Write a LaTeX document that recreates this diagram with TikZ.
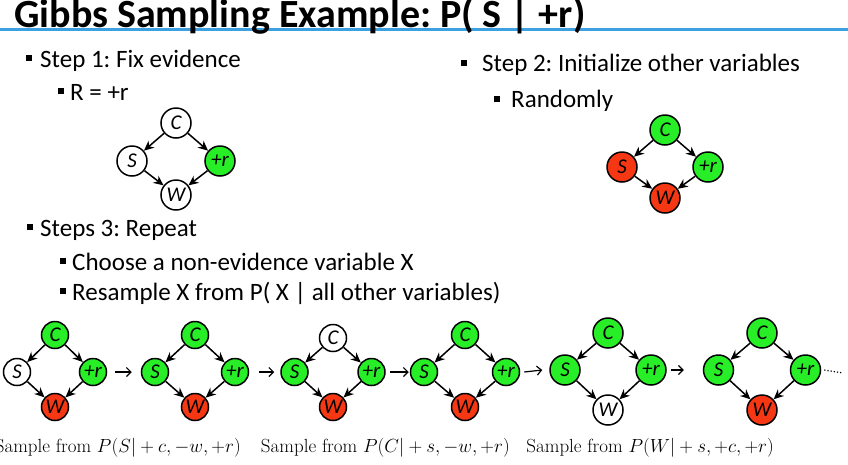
\documentclass[tikz,border=0pt]{standalone}
\usepackage{fix-cm}
\usepackage{fontspec}
\newfontfamily\calfont{Carlito}
\usetikzlibrary{arrows.meta}
\definecolor{vgreen}{RGB}{40,238,40}
\definecolor{vred}{RGB}{245,55,20}
\definecolor{tblue}{RGB}{60,160,225}
\tikzset{
  var/.style={circle,draw=black,line width=1.5pt,minimum size=#1,inner sep=0pt,
    font=\calfont\itshape\fontsize{21}{21}\selectfont},
  var/.default=28pt,
  bnedge/.style={-{Stealth[length=10pt,width=9pt]},line width=1.5pt},
  seqarrow/.style={-{Straight Barb[length=4.5pt,width=9pt]},line width=1.2pt},
  bul/.style={rectangle,fill=black,minimum size=5.5pt,inner sep=0pt},
  lvl/.style={anchor=base west,inner sep=0pt,font=\calfont\fontsize{25}{29}\selectfont},
  captext/.style={anchor=base east,inner sep=0pt,font=\fontsize{19}{23}\selectfont},
}
\newcommand{\captxt}[1]{Sample from $#1$}
% #1 prefix, #2 Cx, #3 Cy, #4 dx, #5 dyS, #6 dyW, #7 fill C, #8 fill S, #9 fill W
\newcommand{\gbnet}[9]{%
  \node[var=\gbsize,fill=#7] (#1c) at (#2,#3) {C};
  \node[var=\gbsize,fill=#8] (#1s) at (#2-#4,#3+#5) {S};
  \node[var=\gbsize,fill=vgreen] (#1r) at (#2+#4,#3+#5) {+r};
  \node[var=\gbsize,fill=#9] (#1w) at (#2,#3+#6) {W};
  \draw[bnedge] (#1c) -- (#1s);
  \draw[bnedge] (#1c) -- (#1r);
  \draw[bnedge] (#1s) -- (#1w);
  \draw[bnedge] (#1r) -- (#1w);
}
\newcommand{\gbsize}{30pt}
\begin{document}
\frenchspacing
\begin{tikzpicture}[x=1pt,y=-1pt]
\useasboundingbox (0,0) rectangle (848,464);
% title
\coordinate (tl) at (0,29.5);
\coordinate (tr) at (848,29.5);
\draw[tblue,line width=2.2pt] (tl) -- (tr);
\node[anchor=base west,inner sep=0pt,font=\calfont\bfseries\fontsize{40}{44}\selectfont] (title) at (14,27.5) {Gibbs Sampling Example: P( S | +r)};
% bullets
\node[bul] (b1) at (29,58) {};
\node[lvl] (t1) at (40,67) {Step 1: Fix evidence};
\node[bul] (b2) at (61,91) {};
\node[lvl] (t2) at (70,100) {R = +r};
\node[bul] (b3) at (464,63) {};
\node[lvl] (t3) at (482,71) {Step 2: Initialize other variables};
\node[bul] (b4) at (497,99) {};
\node[lvl] (t4) at (511,107) {Randomly};
\node[bul] (b5) at (30,227) {};
\node[lvl] (t5) at (40,236) {Steps 3: Repeat};
\node[bul] (b6) at (63,261) {};
\node[lvl] (t6) at (72,270) {Choose a non-evidence variable X};
\node[bul] (b7) at (63,291) {};
\node[lvl] (t7) at (72,300) {Resample X from P( X | all other variables)};
% top graphs
\gbnet{g}{176}{123}{44}{38}{72}{white}{white}{white}
\gbnet{h}{665}{130}{43}{37}{68}{vgreen}{vred}{vred}
% bottom sequence
\renewcommand{\gbsize}{27pt}
\gbnet{a}{55}{335}{38}{37}{72}{vgreen}{white}{vred}
\gbnet{b}{195}{335}{40}{37}{72}{vgreen}{vgreen}{vred}
\gbnet{c}{333}{338}{38.5}{34}{69}{white}{vgreen}{vred}
\gbnet{d}{465}{335}{41}{37}{72}{vgreen}{vgreen}{vred}
\renewcommand{\gbsize}{30pt}
\gbnet{e}{608}{333}{43}{37}{77}{vgreen}{vgreen}{white}
\gbnet{f}{762}{333}{43.5}{37}{77}{vgreen}{vgreen}{vred}
% arrows between graphs
\draw[seqarrow] ([xshift=8pt]ar.east) -- ([xshift=-9pt]bs.west);
\draw[seqarrow] ([xshift=10pt]br.east) -- ([xshift=-6pt]cs.west);
\draw[seqarrow] ([xshift=4pt]cr.east) -- ([xshift=-1pt]ds.west);
\draw[seqarrow] ([xshift=4pt]dr.east) -- ([xshift=-7pt]es.west);
\draw[seqarrow] ([xshift=4pt]er.east) -- ([xshift=-19pt]fs.west);
\coordinate (dend) at (843,373);
\draw[dotted,line width=1.2pt] ([xshift=3pt]fr.east) -- (dend);
% captions
\node[captext] (c1) at (241,452) {\captxt{P(S|+c,-w,+r)}};
\node[captext] (c2) at (510,452) {\captxt{P(C|+s,-w,+r)}};
\node[captext] (c3) at (774,452) {\captxt{P(W|+s,+c,+r)}};
\end{tikzpicture}
\end{document}
